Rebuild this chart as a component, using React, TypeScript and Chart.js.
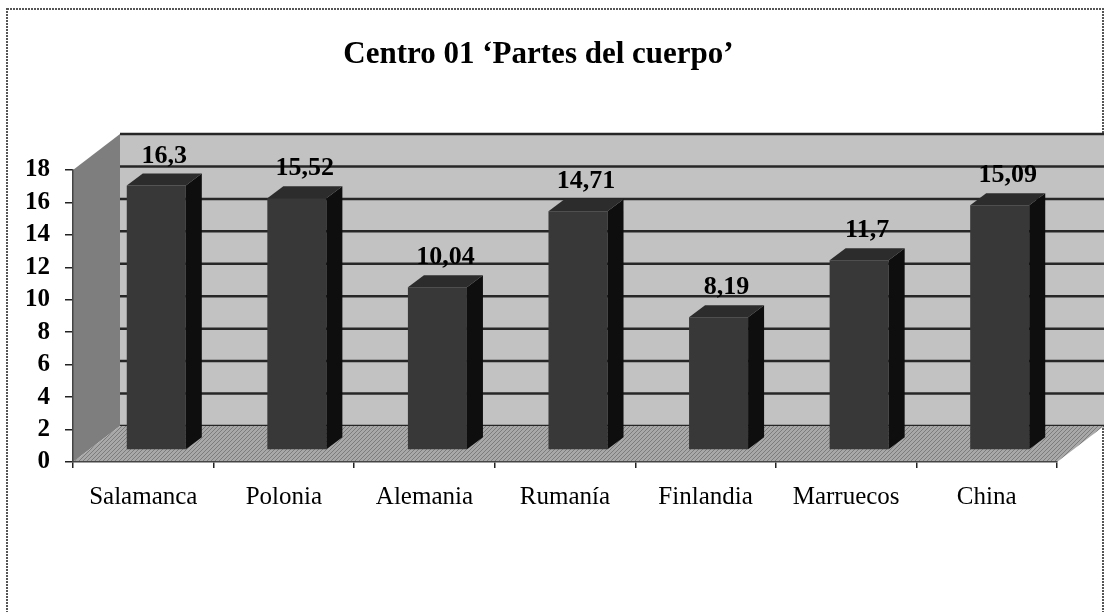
import React, { useEffect, useRef } from "react";
import { Chart, registerables } from "chart.js";

Chart.register(...registerables);

const titleText = "Centro 01 \u2018Partes del cuerpo\u2019";
const categories = ["Salamanca", "Polonia", "Alemania", "Rumanía", "Finlandia", "Marruecos", "China"];
const values = [16.3, 15.52, 10.04, 14.71, 8.19, 11.7, 15.09];
const valueLabels = ["16,3", "15,52", "10,04", "14,71", "8,19", "11,7", "15,09"];
const yMin = 0;
const yMax = 18;
const yStep = 2;

const SERIF = "'Liberation Serif', 'Times New Roman', 'DejaVu Serif', serif";

// depth of the pseudo-3D box, and of the bars inside it
const WALL_DX = 47;
const WALL_DY = -36;
const BAR_TX = 13;
const BAR_TY = -12;
const BAR_EX = 16;
const BAR_EY = -12;

const COLORS = {
  backWall: "#c2c2c2",
  leftWall: "#7e7e7e",
  floor: "#a8a8a8",
  floorHatch: "#7c7c7c",
  grid: "#262626",
  barFront: "#383838",
  barSide: "#0e0e0e",
  barTop: "#2c2c2c",
};

function poly(ctx: CanvasRenderingContext2D, pts: number[][], fill: any) {
  ctx.beginPath();
  ctx.moveTo(pts[0][0], pts[0][1]);
  for (let i = 1; i < pts.length; i++) ctx.lineTo(pts[i][0], pts[i][1]);
  ctx.closePath();
  ctx.fillStyle = fill;
  ctx.fill();
}

function hatch(ctx: CanvasRenderingContext2D, base: string, line: string) {
  const c = document.createElement("canvas");
  c.width = 4;
  c.height = 4;
  const g = c.getContext("2d")!;
  g.fillStyle = base;
  g.fillRect(0, 0, 4, 4);
  g.fillStyle = line;
  for (let i = 0; i < 4; i++) g.fillRect(i, 3 - i, 1, 1);
  return ctx.createPattern(c, "repeat");
}

const boxPlugin = {
  id: "box3d",
  beforeDraw(chart: any) {
    const ctx: CanvasRenderingContext2D = chart.ctx;
    const { left, right, top, bottom } = chart.chartArea;
    const yScale = chart.scales.y;
    ctx.save();
    ctx.fillStyle = "#ffffff";
    ctx.fillRect(0, 0, chart.width, chart.height);
    // outer dotted frame
    ctx.strokeStyle = "#555";
    ctx.lineWidth = 2;
    ctx.setLineDash([2, 1]);
    ctx.strokeRect(7, 9, chart.width - 15, chart.height + 40);
    ctx.setLineDash([]);
    // back wall
    poly(ctx, [
      [left + WALL_DX, top + WALL_DY],
      [right + WALL_DX, top + WALL_DY],
      [right + WALL_DX, bottom + WALL_DY],
      [left + WALL_DX, bottom + WALL_DY],
    ], COLORS.backWall);
    // gridlines on back wall
    ctx.strokeStyle = COLORS.grid;
    ctx.lineWidth = 2.5;
    for (let v = yMin; v <= yMax; v += yStep) {
      const y = yScale.getPixelForValue(v) + WALL_DY;
      ctx.beginPath();
      ctx.moveTo(left + WALL_DX, y);
      ctx.lineTo(right + WALL_DX, y);
      ctx.stroke();
    }
    // left wall
    poly(ctx, [
      [left, top],
      [left + WALL_DX, top + WALL_DY],
      [left + WALL_DX, bottom + WALL_DY],
      [left, bottom],
    ], COLORS.leftWall);
    // floor
    poly(ctx, [
      [left, bottom],
      [right, bottom],
      [right + WALL_DX, bottom + WALL_DY],
      [left + WALL_DX, bottom + WALL_DY],
    ], hatch(ctx, COLORS.floor, COLORS.floorHatch) || COLORS.floor);
    ctx.restore();
  },
  beforeDatasetsDraw(chart: any) {
    chart.ctx.save();
    chart.ctx.translate(BAR_TX, BAR_TY);
  },
  afterDatasetsDraw(chart: any) {
    const ctx: CanvasRenderingContext2D = chart.ctx;
    ctx.restore();
    ctx.save();
    const meta = chart.getDatasetMeta(0);
    meta.data.forEach((el: any, i: number) => {
      const w = el.width;
      const x1 = el.x - w / 2 + BAR_TX;
      const x2 = el.x + w / 2 + BAR_TX;
      const yt = el.y + BAR_TY;
      const yb = el.base + BAR_TY;
      // side face
      poly(ctx, [
        [x2, yt],
        [x2 + BAR_EX, yt + BAR_EY],
        [x2 + BAR_EX, yb + BAR_EY],
        [x2, yb],
      ], COLORS.barSide);
      // top face
      poly(ctx, [
        [x1, yt],
        [x2, yt],
        [x2 + BAR_EX, yt + BAR_EY],
        [x1 + BAR_EX, yt + BAR_EY],
      ], COLORS.barTop);
      // value label
      ctx.fillStyle = "#000";
      ctx.font = `bold 26px ${SERIF}`;
      ctx.textAlign = "center";
      ctx.textBaseline = "alphabetic";
      ctx.fillText(valueLabels[i], (x1 + x2 + BAR_EX) / 2, yt + BAR_EY - 11);
    });
    ctx.restore();
  },
};

export default function App() {
  const ref = useRef<HTMLCanvasElement>(null);
  useEffect(() => {
    document.body.style.margin = "0";
    const canvas = ref.current!;
    const chart = new Chart(canvas, {
      type: "bar",
      data: {
        labels: categories,
        datasets: [
          {
            data: values,
            backgroundColor: COLORS.barFront,
            borderWidth: 0,
            barPercentage: 0.42,
            categoryPercentage: 1,
          },
        ],
      },
      options: {
        responsive: false,
        animation: false,
        devicePixelRatio: 1,
        layout: { padding: { left: 20, right: 54, top: 0, bottom: 0 } },
        plugins: {
          legend: { display: false },
          tooltip: { enabled: false },
          title: {
            display: true,
            text: titleText,
            color: "#000",
            font: { family: SERIF, size: 31, weight: "bold" },
            padding: { top: 36, bottom: 96.8 },
          },
        },
        scales: {
          x: {
            grid: { offset: true, drawOnChartArea: false, drawTicks: true, tickLength: 6, color: "#222", lineWidth: 1.5 },
            border: { display: true, color: "#444", width: 1.5, dash: [2, 1] },
            ticks: { color: "#000", font: { family: SERIF, size: 25 }, padding: 14, maxRotation: 0, autoSkip: false },
            afterFit: (s: any) => { s.height = 150; },
          },
          y: {
            min: yMin,
            max: yMax,
            grid: { drawOnChartArea: false, drawTicks: true, tickLength: 8, color: "#222", lineWidth: 1.5 },
            border: { display: true, color: "#444", width: 1.5, dash: [2, 1] },
            ticks: { stepSize: yStep, autoSkip: false, color: "#000", font: { family: SERIF, size: 25, weight: "bold" }, padding: 15 },
            afterFit: (s: any) => { s.width = 53; },
          },
        },
      },
      plugins: [boxPlugin],
    });
    return () => chart.destroy();
  }, []);
  return (
    <div style={{ width: 1111, height: 612 }}>
      <canvas ref={ref} width={1111} height={612} style={{ display: "block" }} />
    </div>
  );
}
